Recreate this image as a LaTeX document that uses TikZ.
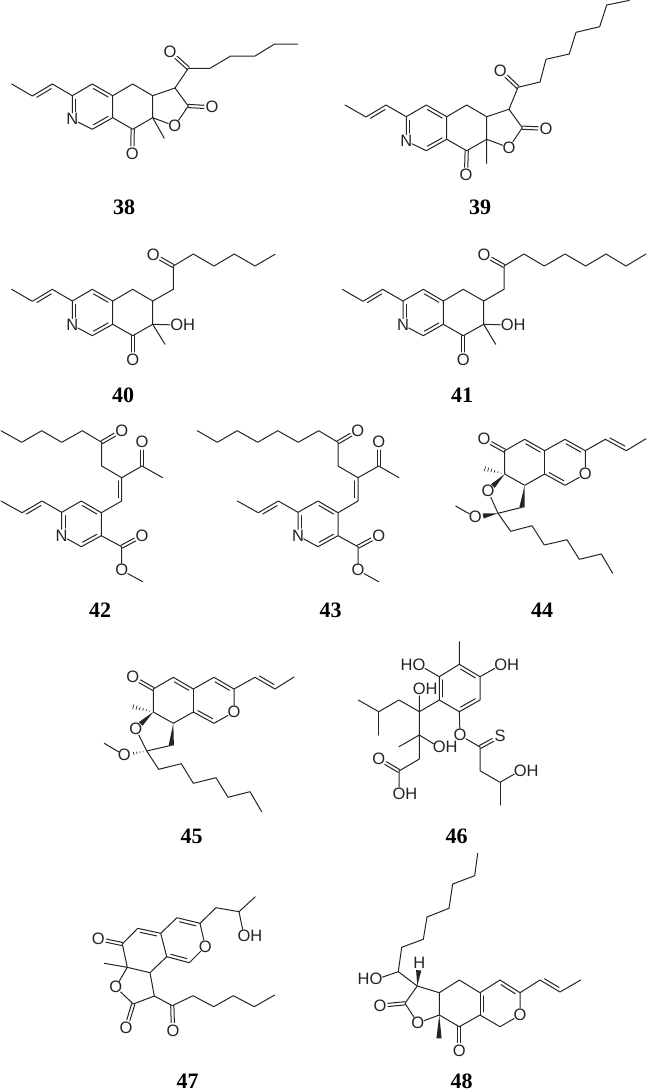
\documentclass[tikz,border=0pt]{standalone}
\usepackage{fontspec}
\setmainfont{Liberation Sans}
\newfontfamily\numfont{Liberation Serif}
\usetikzlibrary{calc}
\definecolor{pInk}{gray}{0.14}
\tikzset{
    bond/.style={draw=pInk, line width=1pt, line join=round, line cap=round},
    atom/.style={circle, inner sep=-1.4pt, text=pInk, font=\fontsize{16.5}{16.5}\selectfont},
    numb/.style={inner sep=0pt, text=black, font=\numfont\bfseries\fontsize{22}{22}\selectfont}
}
% second line of a double bond, on the left of the way from #2 to #3
\newcommand{\dbl}[3][.14]{\draw[bond] ($(#2)!.14!(#3)!3.4pt!90:(#3)$) -- ($(#3)!#1!(#2)!3.4pt!-90:(#2)$);}
% carbonyl, two lines round the axis
\newcommand{\dblo}[2]{\draw[bond] ($(#1)!1.6pt!90:(#2)$) -- ($(#2)!8pt!(#1)!1.6pt!-90:(#1)$) ($(#1)!1.6pt!-90:(#2)$) -- ($(#2)!8pt!(#1)!1.6pt!90:(#1)$);}
% wedge and hashed bond
\newcommand{\wdg}[3][0pt]{\fill[pInk] ($(#3)!#1!(#2)!2.6pt!90:(#2)$) -- (#2) -- ($(#3)!#1!(#2)!2.6pt!-90:(#2)$) -- cycle;}
\newcommand{\hsh}[3][1]{\foreach \t in {.16,.3,...,#1} {\pgfmathsetlengthmacro{\hw}{\t*2.8pt}
    \draw[pInk, line width=0.7pt] ($(#2)!\t!(#3)!\hw!90:(#3)$) -- ($(#2)!\t!(#3)!\hw!-90:(#3)$);}}

\begin{document}
\begin{tikzpicture}[x=1pt,y=-1pt]
\useasboundingbox (0,0) rectangle (649,1092);
% 38
\coordinate (c38a) at (11.7,84); \coordinate (c38b) at (32.3,96); \coordinate (c38c) at (52.3,84);
\coordinate (c38d) at (72.3,95.7); \coordinate (c38e) at (92.3,84); \coordinate (c38f) at (112.7,95.7);
\coordinate (c38g) at (112.7,117.7); \coordinate (c38h) at (92.3,129.3); \coordinate (c38i) at (132.7,84);
\coordinate (c38j) at (152.7,95.7); \coordinate (c38k) at (152.7,117.7); \coordinate (c38l) at (132.7,129.3);
\coordinate (c38m) at (164.3,138.3); \coordinate (c38p) at (188.3,106); \coordinate (c38q) at (175,88);
\coordinate (c38r) at (188.3,68.3); \coordinate (c38s) at (210,68.3); \coordinate (c38t) at (230.7,56);
\coordinate (c38u) at (255,56); \coordinate (c38v) at (274.7,44); \coordinate (c38w) at (297.7,44);
\node[atom] (n38) at (72.3,119.3) {N};
\node[atom] (o38a) at (132.3,154) {O};
\node[atom] (o38b) at (174.7,126) {O};
\node[atom] (o38c) at (212,107.3) {O};
\node[atom] (o38d) at (170,52) {O};
\draw[bond] (c38a)--(c38b)--(c38c)--(c38d)--(c38e)--(c38f)--(c38g)--(c38h)--(n38)--(c38d);
\draw[bond] (c38f)--(c38i)--(c38j)--(c38k)--(c38l)--(c38g);
\draw[bond] (c38j)--(c38q)--(c38p)--(o38b)--(c38k)--(c38m);
\draw[bond] (c38q)--(c38r)--(c38s)--(c38t)--(c38u)--(c38v)--(c38w);
\dbl{c38c}{c38b} \dbl[.32]{c38d}{n38} \dbl{c38h}{c38g} \dbl{c38f}{c38e}
\dblo{c38l}{o38a} \dblo{c38p}{o38c} \dblo{c38r}{o38d}
\node[numb] (l38) at (124,207) {38};
% 39
\coordinate (c39a) at (345,105); \coordinate (c39b) at (366,117); \coordinate (c39c) at (386,105);
\coordinate (c39d) at (406.3,116.7); \coordinate (c39e) at (426.3,105); \coordinate (c39f) at (446.7,116.7);
\coordinate (c39g) at (446.7,139.3); \coordinate (c39h) at (426.3,150.7); \coordinate (c39i) at (466.7,105);
\coordinate (c39j) at (486.7,116.7); \coordinate (c39k) at (486.7,139.3); \coordinate (c39l) at (466.7,150.7);
\coordinate (c39m) at (486.7,163.3); \coordinate (c39p) at (522.3,127.7); \coordinate (c39q) at (509,109.3);
\coordinate (c39r) at (518,87.3); \coordinate (c39s) at (540,82); \coordinate (c39t) at (546,59.3);
\coordinate (c39u) at (569.3,54); \coordinate (c39v) at (576,32.3); \coordinate (c39w) at (599.7,26.7);
\coordinate (c39x) at (606.7,5); \coordinate (c39y) at (629.3,0.4);
\node[atom] (n39) at (406.3,141) {N};
\node[atom] (o39a) at (466,175.3) {O};
\node[atom] (o39b) at (509,147.7) {O};
\node[atom] (o39c) at (546,128.7) {O};
\node[atom] (o39d) at (500.3,70.7) {O};
\draw[bond] (c39a)--(c39b)--(c39c)--(c39d)--(c39e)--(c39f)--(c39g)--(c39h)--(n39)--(c39d);
\draw[bond] (c39f)--(c39i)--(c39j)--(c39k)--(c39l)--(c39g);
\draw[bond] (c39j)--(c39q)--(c39p)--(o39b)--(c39k)--(c39m);
\draw[bond] (c39q)--(c39r)--(c39s)--(c39t)--(c39u)--(c39v)--(c39w)--(c39x)--(c39y);
\dbl{c39c}{c39b} \dbl[.32]{c39d}{n39} \dbl{c39h}{c39g} \dbl{c39f}{c39e}
\dblo{c39l}{o39a} \dblo{c39p}{o39c} \dblo{c39r}{o39d}
\node[numb] (l39) at (480,207) {39};
% 40
\coordinate (c40a) at (11.7,289.3); \coordinate (c40b) at (32.3,301.3); \coordinate (c40c) at (52.3,289.3);
\coordinate (c40d) at (72.3,301); \coordinate (c40e) at (92.3,289.3); \coordinate (c40f) at (112.7,301);
\coordinate (c40g) at (112.7,324.3); \coordinate (c40h) at (92.3,335.7); \coordinate (c40i) at (132.7,289.3);
\coordinate (c40j) at (152.7,301); \coordinate (c40k) at (152.7,324.3); \coordinate (c40l) at (132.7,335.7);
\coordinate (c40m) at (165,344.3); \coordinate (c40q) at (173.3,289.3); \coordinate (c40r) at (173.3,266);
\coordinate (c40s) at (193.3,254); \coordinate (c40t) at (214,266); \coordinate (c40u) at (234.3,254);
\coordinate (c40v) at (255,266); \coordinate (c40w) at (275,254.3);
\node[atom] (n40) at (72.3,325) {N};
\node[atom] (o40a) at (132.7,360) {O};
\node[atom] (o40b) at (176.7,325) {O\rlap{H}};
\node[atom] (o40c) at (153.3,254.7) {O};
\draw[bond] (c40a)--(c40b)--(c40c)--(c40d)--(c40e)--(c40f)--(c40g)--(c40h)--(n40)--(c40d);
\draw[bond] (c40f)--(c40i)--(c40j)--(c40k)--(c40l)--(c40g);
\draw[bond] (o40b)--(c40k)--(c40m);
\draw[bond] (c40j)--(c40q)--(c40r)--(c40s)--(c40t)--(c40u)--(c40v)--(c40w);
\dbl{c40c}{c40b} \dbl[.32]{c40d}{n40} \dbl{c40h}{c40g} \dbl{c40f}{c40e}
\dblo{c40l}{o40a} \dblo{c40r}{o40c}
\node[numb] (l40) at (123,395) {40};
% 41
\coordinate (c41a) at (342.3,289.3); \coordinate (c41b) at (363,301.3); \coordinate (c41c) at (382.7,289.3);
\coordinate (c41d) at (403,301); \coordinate (c41e) at (423.3,289.3); \coordinate (c41f) at (443.3,301);
\coordinate (c41g) at (443.3,324.3); \coordinate (c41h) at (423.3,335.7); \coordinate (c41i) at (463.3,289.3);
\coordinate (c41j) at (483.7,301); \coordinate (c41k) at (483.7,324.3); \coordinate (c41l) at (463.3,335.7);
\coordinate (c41m) at (495.7,344.3); \coordinate (c41q) at (504,289.3); \coordinate (c41r) at (504,266);
\coordinate (c41s) at (524,254); \coordinate (c41t) at (544.3,266); \coordinate (c41u) at (565,254);
\coordinate (c41v) at (585.7,266); \coordinate (c41w) at (606,254); \coordinate (c41x) at (626,266);
\coordinate (c41y) at (646,254);
\node[atom] (n41) at (403,325) {N};
\node[atom] (o41a) at (463.3,360) {O};
\node[atom] (o41b) at (507.3,325) {O\rlap{H}};
\node[atom] (o41c) at (484,254.7) {O};
\draw[bond] (c41a)--(c41b)--(c41c)--(c41d)--(c41e)--(c41f)--(c41g)--(c41h)--(n41)--(c41d);
\draw[bond] (c41f)--(c41i)--(c41j)--(c41k)--(c41l)--(c41g);
\draw[bond] (o41b)--(c41k)--(c41m);
\draw[bond] (c41j)--(c41q)--(c41r)--(c41s)--(c41t)--(c41u)--(c41v)--(c41w)--(c41x)--(c41y);
\dbl{c41c}{c41b} \dbl[.32]{c41d}{n41} \dbl{c41h}{c41g} \dbl{c41f}{c41e}
\dblo{c41l}{o41a} \dblo{c41r}{o41c}
\node[numb] (l41) at (462,395) {41};
% 42
\coordinate (c42a) at (1,430.7); \coordinate (c42b) at (21.7,442.3); \coordinate (c42c) at (41.7,430.7);
\coordinate (c42d) at (61.7,442.3); \coordinate (c42e) at (82.3,430.7); \coordinate (c42f) at (101.7,442.3);
\coordinate (c42g) at (101.7,466); \coordinate (c42h) at (121.7,477.7); \coordinate (c42i) at (142,466);
\coordinate (c42j) at (162.7,477.7); \coordinate (c42k) at (121.7,501); \coordinate (c42l) at (101.3,512.7);
\coordinate (c42m) at (101.3,535.7); \coordinate (c42p) at (81.3,546.7); \coordinate (c42q) at (61.7,512.3);
\coordinate (c42r) at (81.3,501); \coordinate (c42s) at (42,501); \coordinate (c42t) at (22,512.7);
\coordinate (c42u) at (1,501); \coordinate (c42v) at (121.7,546.7); \coordinate (c42w) at (142.7,581.7);
\node[atom] (n42) at (61.7,535.7) {N};
\node[atom] (o42a) at (121.7,430.7) {O};
\node[atom] (o42b) at (142,442) {O};
\node[atom] (o42c) at (142,535.7) {O};
\node[atom] (o42d) at (121.7,570.3) {O};
\draw[bond] (c42a)--(c42b)--(c42c)--(c42d)--(c42e)--(c42f)--(c42g)--(c42h)--(c42i)--(c42j);
\draw[bond] (c42h)--(c42k)--(c42l)--(c42m)--(c42p)--(n42)--(c42q)--(c42r)--(c42l);
\draw[bond] (c42q)--(c42s)--(c42t)--(c42u);
\draw[bond] (c42m)--(c42v)--(o42d)--(c42w);
\dbl{c42s}{c42t} \dbl[.32]{c42q}{n42} \dbl{c42p}{c42m} \dbl{c42l}{c42r} \dbl{c42k}{c42h}
\dblo{c42f}{o42a} \dblo{c42i}{o42b} \dblo{c42v}{o42c}
\node[numb] (l42) at (100,610) {42};
% 43
\coordinate (c43a) at (197.3,430.7); \coordinate (c43b) at (217.3,442.3); \coordinate (c43c) at (237.3,430.7);
\coordinate (c43d) at (257.7,442.3); \coordinate (c43e) at (277.7,430.7); \coordinate (c43f) at (298.3,442.3);
\coordinate (c43x) at (318.7,430.7); \coordinate (c43y) at (338,442.3);
\coordinate (c43g) at (338,466); \coordinate (c43h) at (358,477.7); \coordinate (c43i) at (378.7,466);
\coordinate (c43j) at (399,477.7); \coordinate (c43k) at (358,501); \coordinate (c43l) at (338,512.7);
\coordinate (c43m) at (338,535.7); \coordinate (c43p) at (318,546.7); \coordinate (c43q) at (298,512.3);
\coordinate (c43r) at (318,501); \coordinate (c43s) at (278.3,501); \coordinate (c43t) at (258.3,512.7);
\coordinate (c43u) at (237.3,501); \coordinate (c43v) at (358,546.7); \coordinate (c43w) at (378.7,581.7);
\node[atom] (n43) at (298,535.7) {N};
\node[atom] (o43a) at (357.7,430.7) {O};
\node[atom] (o43b) at (378.7,442) {O};
\node[atom] (o43c) at (378.7,535.7) {O};
\node[atom] (o43d) at (358,570.3) {O};
\draw[bond] (c43a)--(c43b)--(c43c)--(c43d)--(c43e)--(c43f)--(c43x)--(c43y)--(c43g)--(c43h)--(c43i)--(c43j);
\draw[bond] (c43h)--(c43k)--(c43l)--(c43m)--(c43p)--(n43)--(c43q)--(c43r)--(c43l);
\draw[bond] (c43q)--(c43s)--(c43t)--(c43u);
\draw[bond] (c43m)--(c43v)--(o43d)--(c43w);
\dbl{c43s}{c43t} \dbl[.32]{c43q}{n43} \dbl{c43p}{c43m} \dbl{c43l}{c43r} \dbl{c43k}{c43h}
\dblo{c43y}{o43a} \dblo{c43i}{o43b} \dblo{c43v}{o43c}
\node[numb] (l43) at (330.7,610) {43};
% 44
\coordinate (c44a) at (504.7,450.7); \coordinate (c44b) at (524.7,439.3); \coordinate (c44c) at (544.7,450.7);
\coordinate (c44d) at (565,439.3); \coordinate (c44e) at (585.3,450.7); \coordinate (c44f) at (565,485.3);
\coordinate (c44g) at (544.7,474); \coordinate (c44h) at (524.7,485.3); \coordinate (c44i) at (504.7,474);
\coordinate (c44j) at (481.7,468); \coordinate (c44k) at (498,513.3); \coordinate (c44l) at (522,507.3);
\coordinate (c44m) at (455.7,506); \coordinate (c44p) at (510.7,531.3); \coordinate (c44q) at (532,525.7);
\coordinate (c44r) at (544.3,545); \coordinate (c44s) at (567,539.7); \coordinate (c44t) at (579.3,559.3);
\coordinate (c44u) at (601.3,554); \coordinate (c44v) at (612.7,573.3); \coordinate (c44w) at (605.3,439.3);
\coordinate (c44x) at (626.3,450.7); \coordinate (c44y) at (646,438.7);
\node[atom] (o44a) at (484,439.3) {O};
\node[atom] (o44b) at (585.3,474) {O};
\node[atom] (o44c) at (488,491) {O};
\node[atom] (o44d) at (475.3,517.3) {O};
\draw[bond] (c44i)--(c44a)--(c44b)--(c44c)--(c44d)--(c44e)--(o44b)--(c44f)--(c44g)--(c44h)--(c44i);
\draw[bond] (c44c)--(c44g);
\draw[bond] (o44c)--(c44k)--(c44l);
\draw[bond] (c44m)--(o44d);
\draw[bond] (c44k)--(c44p)--(c44q)--(c44r)--(c44s)--(c44t)--(c44u)--(c44v);
\draw[bond] (c44e)--(c44w)--(c44x)--(c44y);
\dbl{c44c}{c44b} \dbl{c44e}{c44d} \dbl{c44g}{c44f} \dbl{c44w}{c44x}
\dblo{c44a}{o44a}
\hsh{c44i}{c44j}
\wdg[7pt]{c44i}{o44c} \wdg{c44h}{c44l} \wdg[8pt]{c44k}{o44d}
\node[numb] (l44) at (542,610) {44};
% 45
\coordinate (c45a) at (153.3,689); \coordinate (c45b) at (173.3,677.3); \coordinate (c45c) at (193.3,689);
\coordinate (c45d) at (214,677.3); \coordinate (c45e) at (234,689); \coordinate (c45f) at (214,723.3);
\coordinate (c45g) at (193.3,712); \coordinate (c45h) at (173.3,723.3); \coordinate (c45i) at (153.3,712);
\coordinate (c45j) at (130,706); \coordinate (c45k) at (146.7,751); \coordinate (c45l) at (171.3,745.3);
\coordinate (c45m) at (104.3,743.3); \coordinate (c45p) at (158.7,769.3); \coordinate (c45q) at (181.3,763.7);
\coordinate (c45r) at (193.3,783.3); \coordinate (c45s) at (216,777.7); \coordinate (c45t) at (228,797.3);
\coordinate (c45u) at (250,791.7); \coordinate (c45v) at (261.7,811.7); \coordinate (c45w) at (255,677.3);
\coordinate (c45x) at (275,689); \coordinate (c45y) at (294,677);
\node[atom] (o45a) at (132.7,677.3) {O};
\node[atom] (o45b) at (234,712) {O};
\node[atom] (o45c) at (135.7,728.7) {O};
\node[atom] (o45d) at (124.3,755.3) {O};
\draw[bond] (c45i)--(c45a)--(c45b)--(c45c)--(c45d)--(c45e)--(o45b)--(c45f)--(c45g)--(c45h)--(c45i);
\draw[bond] (c45c)--(c45g);
\draw[bond] (o45c)--(c45k)--(c45l);
\draw[bond] (c45m)--(o45d);
\draw[bond] (c45k)--(c45p)--(c45q)--(c45r)--(c45s)--(c45t)--(c45u)--(c45v);
\draw[bond] (c45e)--(c45w)--(c45x)--(c45y);
\dbl{c45c}{c45b} \dbl{c45e}{c45d} \dbl{c45g}{c45f} \dbl{c45w}{c45x}
\dblo{c45a}{o45a}
\hsh{c45i}{c45j} \hsh[.68]{c45k}{o45d}
\wdg[7pt]{c45i}{o45c} \wdg{c45h}{c45l}
\node[numb] (l45) at (191.7,836) {45};
% 46
\coordinate (c46a) at (459.3,641.7); \coordinate (c46b) at (459.3,664.3); \coordinate (c46c) at (480,676.7);
\coordinate (c46d) at (480,700); \coordinate (c46e) at (459.3,711.7); \coordinate (c46f) at (439.3,700);
\coordinate (c46g) at (439.3,676.7); \coordinate (c46h) at (419.3,711.7); \coordinate (c46i) at (399,700);
\coordinate (c46j) at (378.7,711.7); \coordinate (c46k) at (358.3,700); \coordinate (c46l) at (378.7,735);
\coordinate (c46m) at (419.3,735); \coordinate (c46p) at (399,746.7); \coordinate (c46q) at (419.3,759);
\coordinate (c46r) at (399,771); \coordinate (c46s) at (480,747); \coordinate (c46t) at (480,770.7);
\coordinate (c46u) at (500,782.3); \coordinate (c46v) at (500,805);
\node[atom] (o46a) at (500.7,665) {O\rlap{H}};
\node[atom] (o46b) at (419,665) {\llap{H}O};
\node[atom] (o46c) at (419.3,689) {O\rlap{H}};
\node[atom] (o46d) at (439.3,747.3) {O\rlap{H}};
\node[atom] (o46e) at (378.7,759) {O};
\node[atom] (o46f) at (399,794) {O\rlap{H}};
\node[atom] (o46g) at (460,735.3) {O};
\node[atom] (s46) at (500,736) {S};
\node[atom] (o46h) at (520.3,770.7) {O\rlap{H}};
\draw[bond] (c46a)--(c46b)--(c46c)--(c46d)--(c46e)--(c46f)--(c46g)--(c46b);
\draw[bond] (c46c)--(o46a);
\draw[bond] (c46g)--(o46b);
\draw[bond] (c46e)--(o46g)--(c46s)--(c46t)--(c46u)--(o46h);
\draw[bond] (c46u)--(c46v);
\draw[bond] (c46f)--(c46h)--(c46i)--(c46j)--(c46k);
\draw[bond] (c46j)--(c46l);
\draw[bond] (o46c)--(c46h)--(c46m)--(c46q)--(c46r)--(o46f);
\draw[bond] (c46p)--(c46m)--(o46d);
\dbl{c46g}{c46f} \dbl{c46e}{c46d} \dbl{c46c}{c46b}
\dblo{c46r}{o46e} \dblo{c46s}{s46}
\node[numb] (l46) at (456.7,836.7) {46};
% 47
\coordinate (c47a) at (255.3,896.7); \coordinate (c47b) at (239,911.7); \coordinate (c47c) at (216,907.7);
\coordinate (c47d) at (200,923.3); \coordinate (c47e) at (177,917.7); \coordinate (c47f) at (160.7,933.3);
\coordinate (c47g) at (137.7,928.3); \coordinate (c47h) at (122.3,944); \coordinate (c47i) at (189.3,962.7);
\coordinate (c47j) at (166.7,956.7); \coordinate (c47k) at (150,972.7); \coordinate (c47l) at (127.3,967.3);
\coordinate (c47m) at (104.3,963.3); \coordinate (c47p) at (133.3,1004); \coordinate (c47q) at (154.3,996);
\coordinate (c47r) at (172.3,1005.7); \coordinate (c47s) at (193,995.7); \coordinate (c47t) at (213.7,1006.7);
\coordinate (c47u) at (233.3,995.7); \coordinate (c47v) at (254.3,1006.7); \coordinate (c47w) at (274.7,995);
\node[atom] (o47a) at (244,936) {O\rlap{H}};
\node[atom] (o47b) at (98.3,939) {O};
\node[atom] (o47c) at (205.3,946.7) {O};
\node[atom] (o47d) at (115.7,987.3) {O};
\node[atom] (o47e) at (126,1027.7) {O};
\node[atom] (o47f) at (173,1030.7) {O};
\draw[bond] (c47a)--(c47b)--(c47c)--(c47d)--(c47e)--(c47f)--(c47g)--(c47h)--(c47l)--(c47k)--(c47j)--(c47f);
\draw[bond] (c47b)--(o47a);
\draw[bond] (c47d)--(o47c)--(c47i)--(c47j);
\draw[bond] (c47m)--(c47l)--(o47d)--(c47p)--(c47q)--(c47k);
\draw[bond] (c47q)--(c47r)--(c47s)--(c47t)--(c47u)--(c47v)--(c47w);
\dbl{c47f}{c47g} \dbl{c47d}{c47e} \dbl{c47j}{c47i}
\dblo{c47h}{o47b} \dblo{c47p}{o47e} \dblo{c47r}{o47f}
\node[numb] (l47) at (187.7,1081) {47};
% 48
\coordinate (c48a) at (477.7,853.3); \coordinate (c48b) at (474.7,875.7); \coordinate (c48c) at (452.7,884);
\coordinate (c48d) at (449,908.3); \coordinate (c48e) at (427,917); \coordinate (c48f) at (423.3,939.3);
\coordinate (c48g) at (401.7,947.3); \coordinate (c48h) at (398.3,971.7); \coordinate (c48i) at (417.3,986);
\coordinate (c48j) at (439.3,992.7); \coordinate (c48k) at (459.3,980); \coordinate (c48l) at (480,992.7);
\coordinate (c48m) at (500,980); \coordinate (c48p) at (520,992.7); \coordinate (c48q) at (500,1026.7);
\coordinate (c48r) at (480,1015); \coordinate (c48s) at (459.3,1026.7); \coordinate (c48t) at (439.3,1015);
\coordinate (c48u) at (439,1038.3); \coordinate (c48v) at (405,1003.3); \coordinate (c48w) at (540,980);
\coordinate (c48x) at (560,992); \coordinate (c48y) at (580.7,980);
\node[atom] (h48) at (419.3,963.3) {H};
\node[atom] (o48a) at (376,979.3) {\llap{H}O};
\node[atom] (o48b) at (520,1015) {O};
\node[atom] (o48c) at (459.3,1050.7) {O};
\node[atom] (o48d) at (417.7,1023) {O};
\node[atom] (o48e) at (380,1005.7) {O};
\draw[bond] (c48a)--(c48b)--(c48c)--(c48d)--(c48e)--(c48f)--(c48g)--(c48h)--(c48i)--(c48j)--(c48k)--(c48l)--(c48m)--(c48p)--(o48b)--(c48q)--(c48r)--(c48s)--(c48t)--(c48j);
\draw[bond] (c48h)--(o48a);
\draw[bond] (c48l)--(c48r);
\draw[bond] (c48t)--(o48d)--(c48v)--(c48i);
\draw[bond] (c48p)--(c48w)--(c48x)--(c48y);
\dbl{c48l}{c48r} \dbl{c48p}{c48m} \dbl{c48w}{c48x}
\dblo{c48s}{o48c} \dblo{c48v}{o48e}
\wdg[7pt]{c48i}{h48} \wdg{c48t}{c48u}
\node[numb] (l48) at (461.7,1081) {48};
\end{tikzpicture}
\end{document}
